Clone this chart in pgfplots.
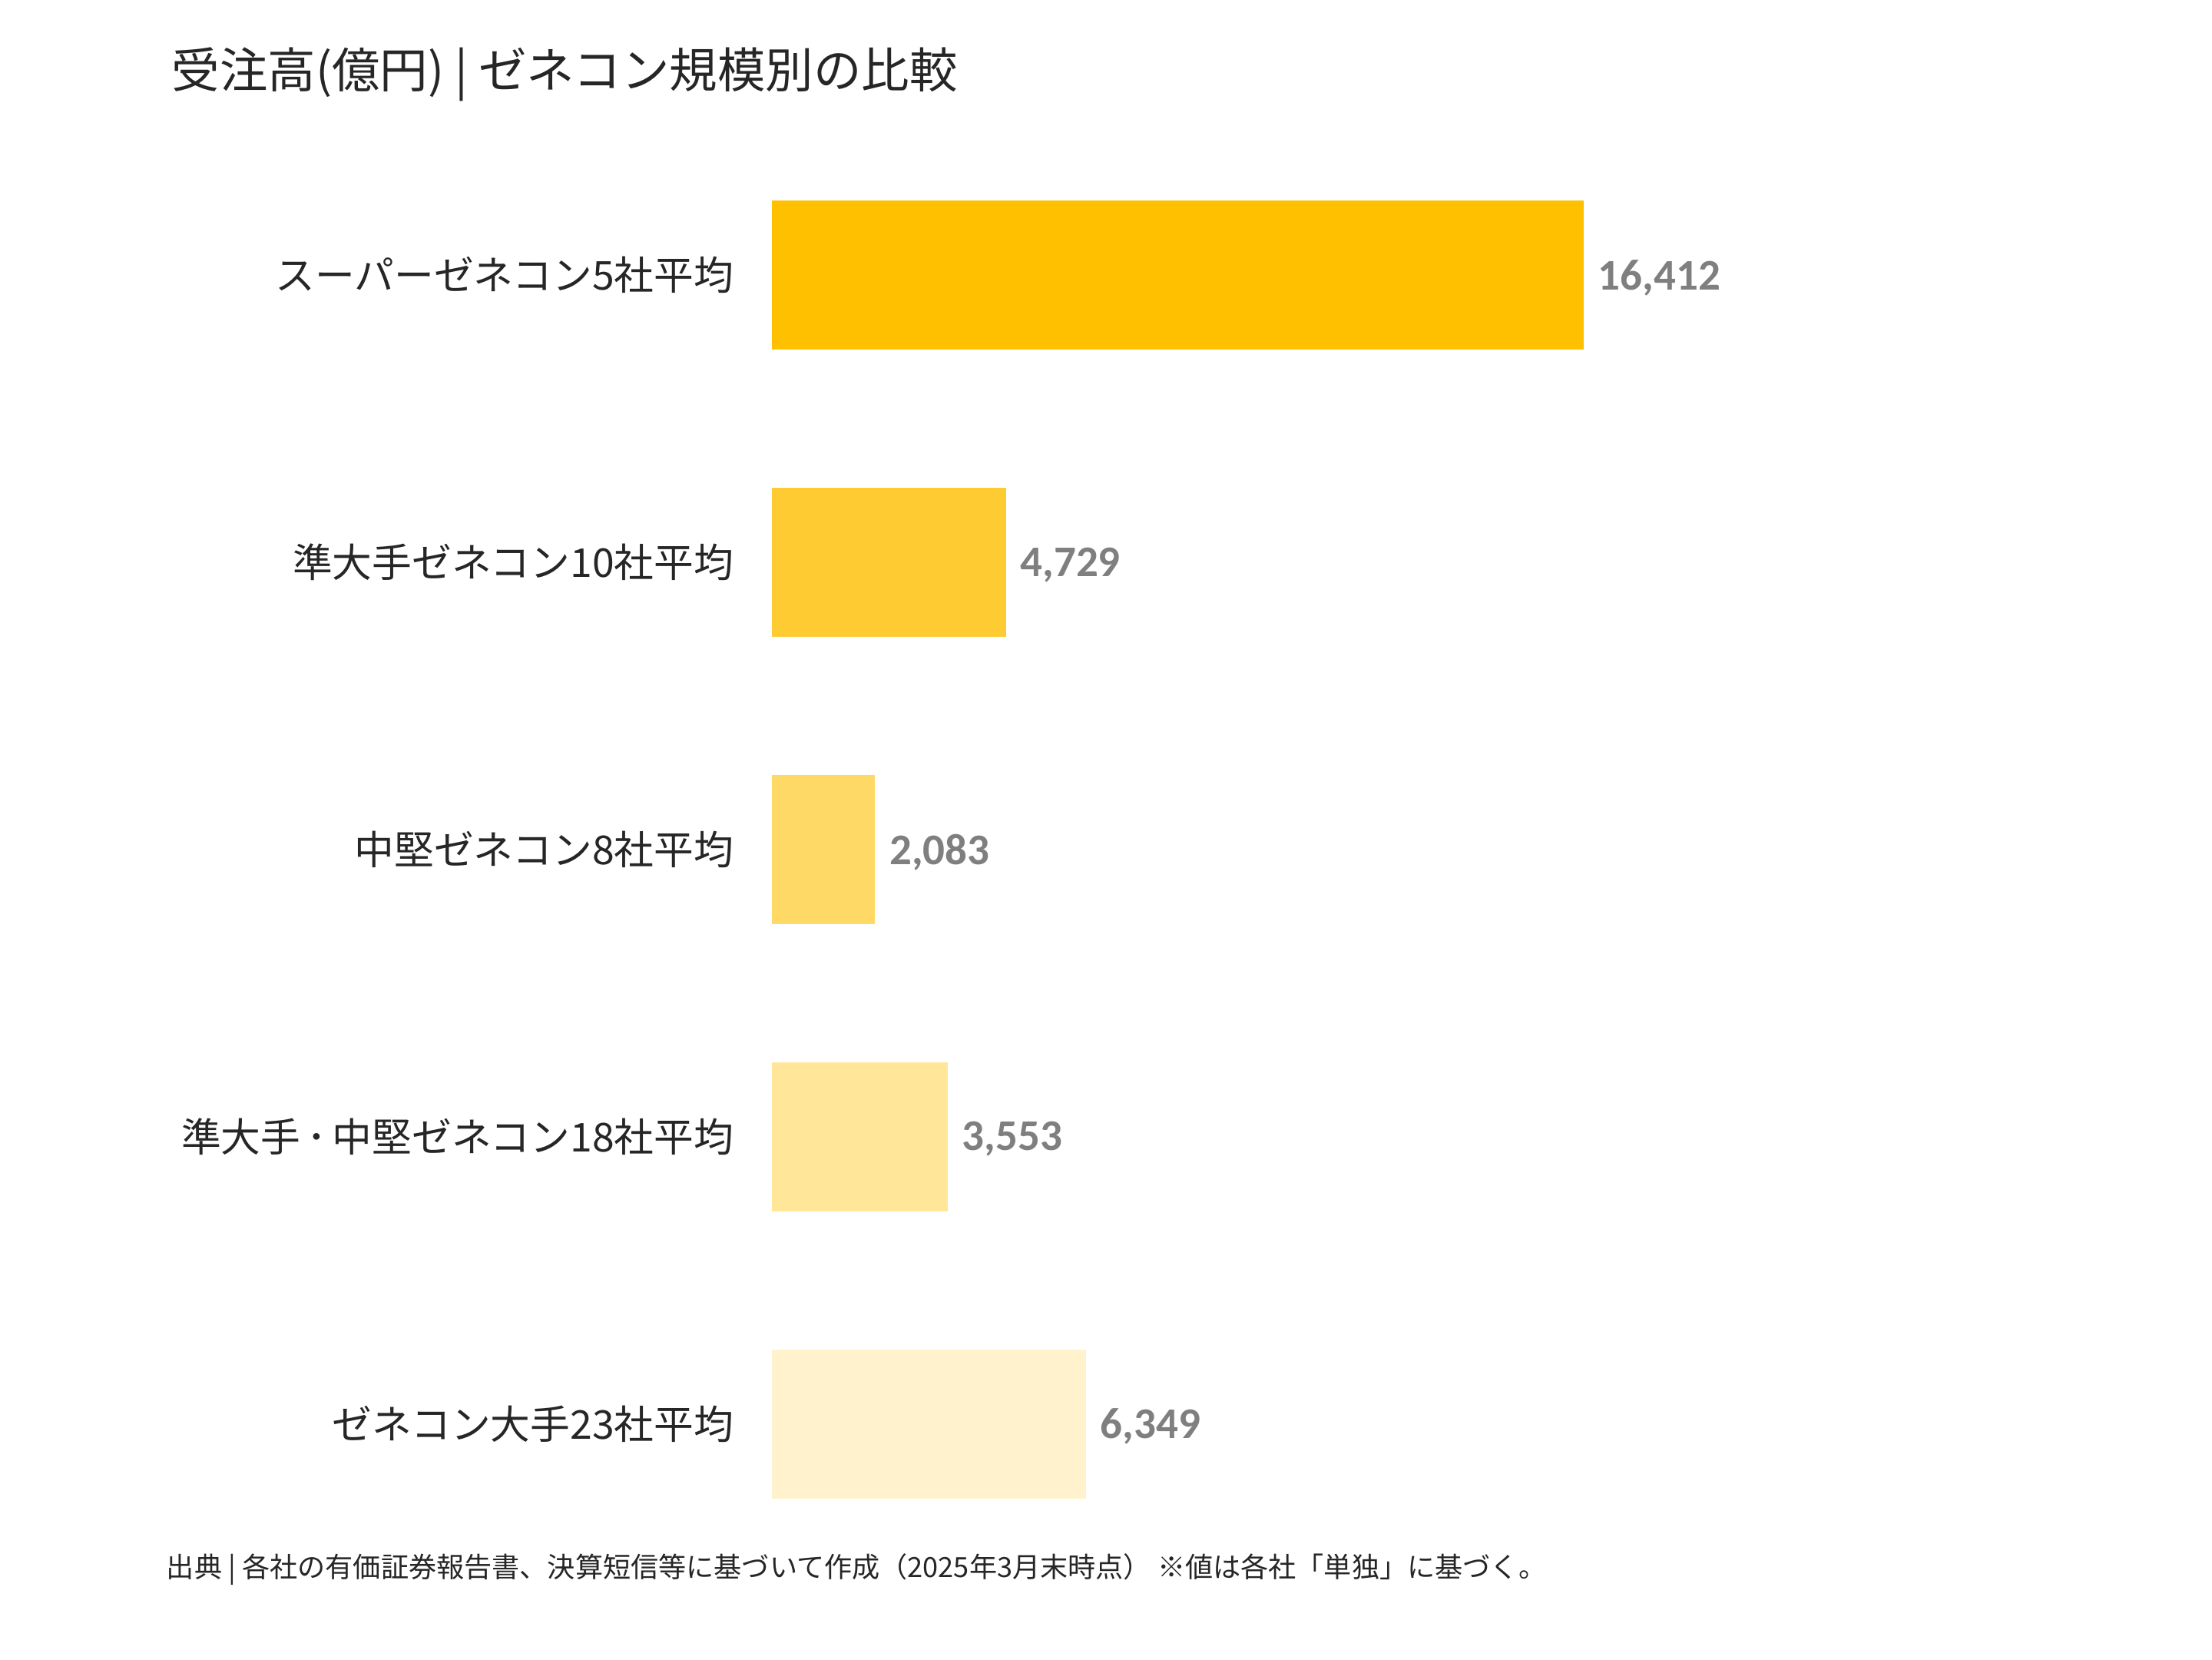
\documentclass[border=0pt]{standalone}
\usepackage{fontspec}
\setmainfont{Noto Sans CJK JP}
\newfontfamily\numfont{Carlito}
\usepackage{pgfplots}
\pgfplotsset{compat=1.18}

\definecolor{barA}{HTML}{FFC000}
\definecolor{barB}{HTML}{FFCB33}
\definecolor{barC}{HTML}{FFD966}
\definecolor{barD}{HTML}{FFE699}
\definecolor{barE}{HTML}{FFF2CC}
\definecolor{valgray}{HTML}{7F7F7F}
\definecolor{txt}{HTML}{262626}

\begin{document}
\begin{tikzpicture}
\path[use as bounding box] (0,0) rectangle (576pt,432pt);
\begin{axis}[
    at={(201pt,397.8pt)}, anchor=north west,
    scale only axis, width=257.6pt, height=373.9pt,
    xbar, bar width=38.8pt,
    xmin=0, xmax=20000, ymin=-0.5, ymax=4.5, y dir=reverse,
    clip=false,
    axis line style={draw=none},
    xtick=\empty,
    ytick={0,1,2,3,4},
    yticklabels={スーパーゼネコン5社平均, 準大手ゼネコン10社平均, 中堅ゼネコン8社平均, 準大手\hspace{0.15em}･\hspace{0.15em}中堅ゼネコン18社平均, ゼネコン大手23社平均},
    major tick length=0pt,
    ytick style={draw=none},
    yticklabel style={font=\fontsize{10.35}{12}\selectfont, text=txt, inner sep=0pt, xshift=-9.8pt},
    point meta=x,
    /pgf/number format/assume math mode=true,
    nodes near coords={\pgfmathprintnumber[fixed, precision=0, 1000 sep={,}]{\pgfplotspointmeta}},
    nodes near coords style={anchor=west, inner sep=0pt, xshift=3.6pt, yshift=-0.7pt, text=valgray, font=\numfont\bfseries\fontsize{11.4}{13}\selectfont},
  ]
  \addplot[fill=barA, draw=none, bar shift=0pt] coordinates {(16412,0)};
  \addplot[fill=barB, draw=none, bar shift=0pt] coordinates {(4729,1)};
  \addplot[fill=barC, draw=none, bar shift=0pt] coordinates {(2083,2)};
  \addplot[fill=barD, draw=none, bar shift=0pt] coordinates {(3553,3)};
  \addplot[fill=barE, draw=none, bar shift=0pt] coordinates {(6349,4)};
\end{axis}
\node[anchor=west, inner sep=0pt, text=txt] at (44.5pt,412.6pt)
  {\fontsize{12.5}{14}\selectfont 受注高(億円) | ゼネコン規模別の比較};
\node[anchor=west, inner sep=0pt, text=txt] at (43.2pt,23.4pt)
  {\fontsize{7.23}{9}\selectfont 出典 | 各社の有価証券報告書、決算短信等に基づいて作成（2025年3月末時点） ※値は各社「単独」に基づく。};
\end{tikzpicture}
\end{document}
